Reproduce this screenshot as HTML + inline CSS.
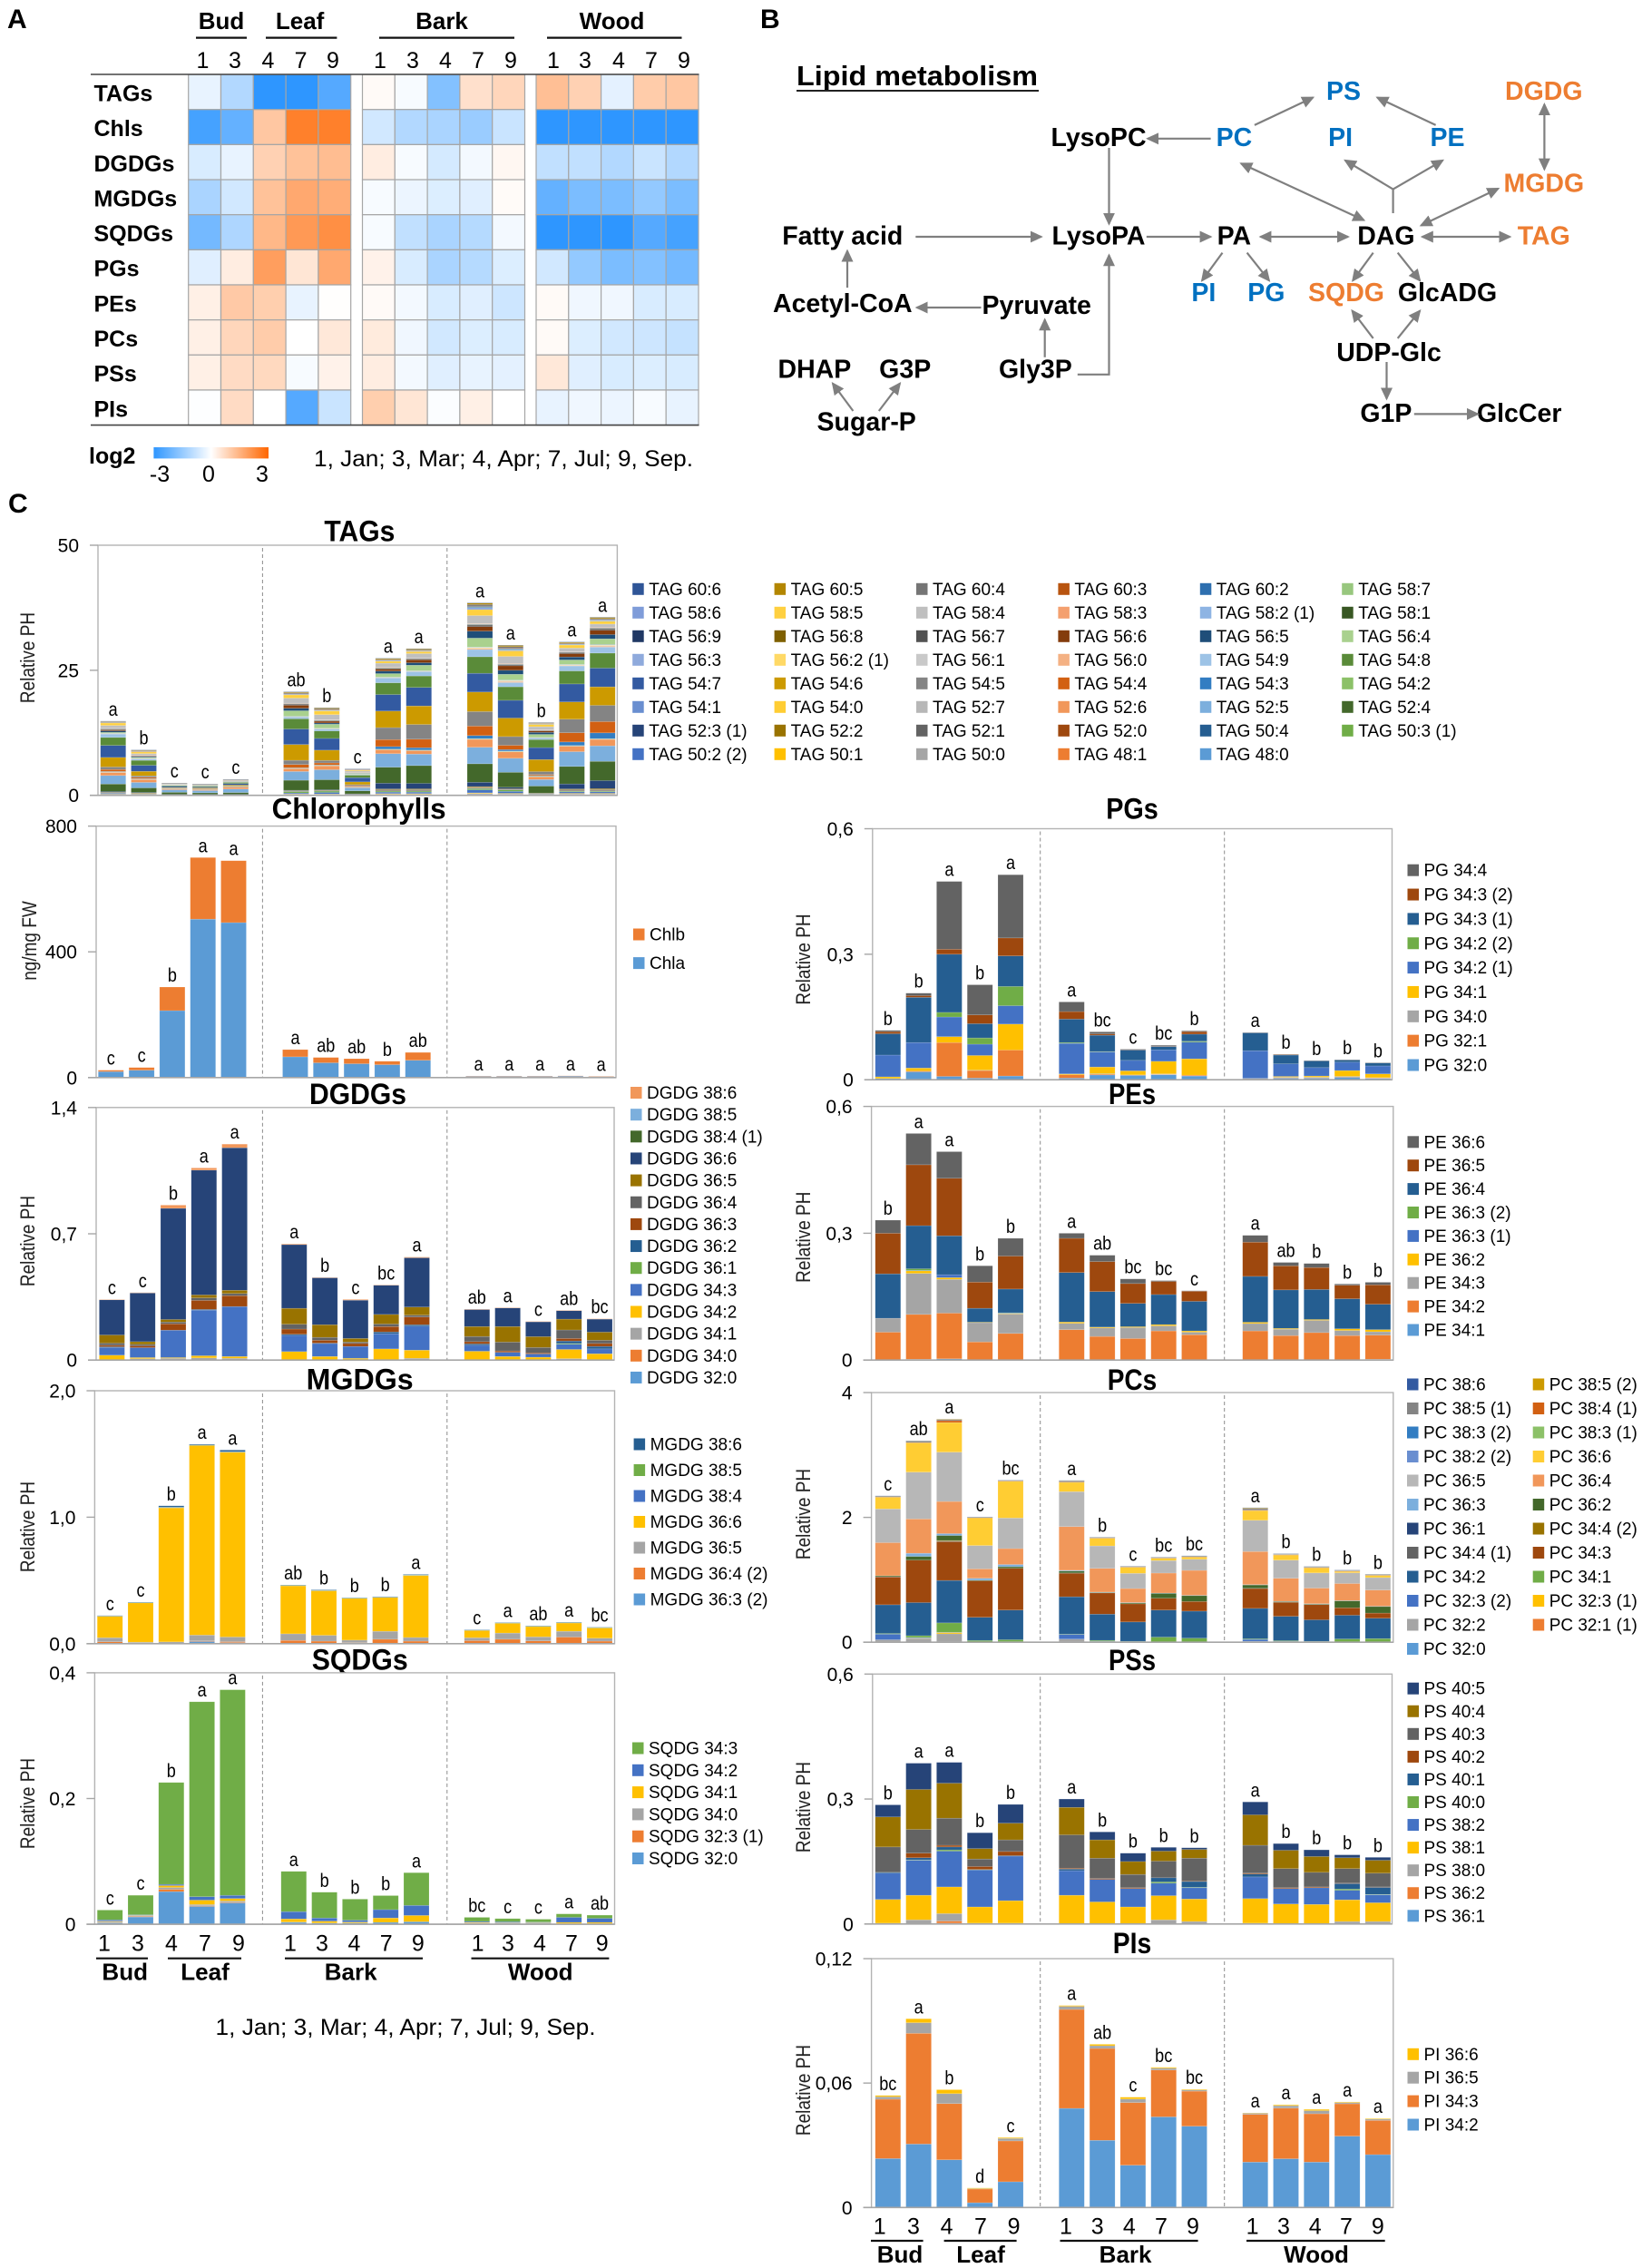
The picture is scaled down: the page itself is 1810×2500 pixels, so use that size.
<!DOCTYPE html>
<html lang="en">
<head>
<meta charset="utf-8">
<title>Lipid profile figure</title>
<style>
html,body{margin:0;padding:0;background:#fff}
svg{display:block}
text{font-family:"Liberation Sans",sans-serif;fill:#000}
.panel{font-weight:700;font-size:30px}
.ttl{font-weight:700;font-size:32px;text-anchor:middle}
.ytitle{font-size:19px;text-anchor:middle;fill:#222}
.hd{font-weight:700;font-size:26px;text-anchor:middle}
.num{font-size:25px;text-anchor:middle}
.row{font-weight:700;font-size:25px}
.foot{font-size:25px}
.node{font-weight:700;font-size:28.5px;text-anchor:middle}
.blue{fill:#0070C0}
.orange{fill:#ED7D31}
.arrow{stroke:#7f7f7f;stroke-width:2.2;fill:none}
.rule{stroke:#111;stroke-width:2.2}
</style>
</head>
<body>
<svg id="figure" xmlns="http://www.w3.org/2000/svg" width="1810" height="2500" viewBox="0 0 1810 2500">
<defs>
<marker id="head" viewBox="0 0 14 14" refX="12" refY="7" markerWidth="14" markerHeight="14" markerUnits="userSpaceOnUse" orient="auto-start-reverse"><path d="M0,0.5 L14,7 L0,13.5 z" fill="#7f7f7f"/></marker>
<linearGradient id="logGrad" x1="0" x2="1" y1="0" y2="0"><stop offset="0" stop-color="#2E96FF"/><stop offset="0.5" stop-color="#ffffff"/><stop offset="1" stop-color="#FF6600"/></linearGradient>
</defs>

<text class="panel" x="8" y="31">A</text>
<text class="panel" x="838" y="31">B</text>
<text class="panel" x="9" y="565">C</text>

<g>
<text class="hd" x="244" y="32">Bud</text>
<text class="hd" x="330.6" y="32">Leaf</text>
<text class="hd" x="487" y="32">Bark</text>
<text class="hd" x="674.5" y="32">Wood</text>
<line class="rule" x1="216" x2="272" y1="41.6" y2="41.6"/>
<line class="rule" x1="293" x2="371.4" y1="41.6" y2="41.6"/>
<line class="rule" x1="418" x2="567" y1="41.6" y2="41.6"/>
<line class="rule" x1="603" x2="751.5" y1="41.6" y2="41.6"/>
<g>
<text class="num" x="223.5" y="75">1</text><text class="num" x="259" y="75">3</text><text class="num" x="295.4" y="75">4</text><text class="num" x="331.6" y="75">7</text><text class="num" x="367" y="75">9</text>
<text class="num" x="419" y="75">1</text><text class="num" x="455" y="75">3</text><text class="num" x="491" y="75">4</text><text class="num" x="527" y="75">7</text><text class="num" x="563" y="75">9</text>
<text class="num" x="610" y="75">1</text><text class="num" x="645" y="75">3</text><text class="num" x="682" y="75">4</text><text class="num" x="718" y="75">7</text><text class="num" x="754" y="75">9</text>
</g>
</g>
<g id="heatmap"></g>
<line x1="100" x2="770.5" y1="82" y2="82" stroke="#444" stroke-width="1.6"/>
<line x1="100" x2="770.5" y1="468.6" y2="468.6" stroke="#444" stroke-width="1.6"/>
<g>
<text x="98" y="511" style="font-weight:700;font-size:25px">log2</text>
<rect x="169.4" y="493" width="126.6" height="12.4" fill="url(#logGrad)"/>
<text class="num" x="176" y="531">-3</text>
<text class="num" x="230" y="531">0</text>
<text class="num" x="289" y="531">3</text>
</g>
<text class="foot" x="346" y="514" textLength="418" lengthAdjust="spacingAndGlyphs">1, Jan; 3, Mar; 4, Apr; 7, Jul; 9, Sep.</text>

<g>
<text x="878" y="94" textLength="266" lengthAdjust="spacingAndGlyphs" style="font-weight:700;font-size:31px">Lipid metabolism</text>
<line x1="878" x2="1145" y1="100" y2="100" stroke="#222" stroke-width="2"/>
<text class="node blue" x="1481" y="110">PS</text>
<text class="node orange" x="1701.8" y="110">DGDG</text>
<text class="node" x="1211" y="161">LysoPC</text>
<text class="node blue" x="1360.4" y="161">PC</text>
<text class="node blue" x="1477.6" y="161">PI</text>
<text class="node blue" x="1595.5" y="161">PE</text>
<text class="node orange" x="1701.8" y="211.3">MGDG</text>
<text class="node" x="928.8" y="269.4">Fatty acid</text>
<text class="node" x="1211" y="269.4">LysoPA</text>
<text class="node" x="1360.4" y="269.4">PA</text>
<text class="node" x="1527.9" y="269.4">DAG</text>
<text class="node orange" x="1701.8" y="269.4">TAG</text>
<text class="node blue" x="1326.9" y="332">PI</text>
<text class="node blue" x="1395.8" y="332">PG</text>
<text class="node orange" x="1484" y="332">SQDG</text>
<text class="node" x="1595.5" y="332">GlcADG</text>
<text class="node" x="928.8" y="343.8">Acetyl-CoA</text>
<text class="node" x="1142.7" y="345.8">Pyruvate</text>
<text class="node" x="1531" y="398.2">UDP-Glc</text>
<text class="node" x="897.9" y="416.5">DHAP</text>
<text class="node" x="997.7" y="416.5">G3P</text>
<text class="node" x="1141.4" y="416.5">Gly3P</text>
<text class="node" x="955.2" y="474.3">Sugar-P</text>
<text class="node" x="1527.9" y="464.8">G1P</text>
<text class="node" x="1674.7" y="464.8">GlcCer</text>
<g>
<line class="arrow" x1="1382.9" y1="137.9" x2="1447.3" y2="107.5" marker-end="url(#head)"/>
<line class="arrow" x1="1582.6" y1="137.9" x2="1518.2" y2="107.5" marker-end="url(#head)"/>
<line class="arrow" x1="1334.6" y1="152.8" x2="1265.1" y2="152.8" marker-end="url(#head)"/>
<line class="arrow" x1="1702.4" y1="115" x2="1702.4" y2="186.6" marker-start="url(#head)" marker-end="url(#head)"/>
<line class="arrow" x1="1222.5" y1="163" x2="1222.5" y2="246.8" marker-end="url(#head)"/>
<line class="arrow" x1="1368.1" y1="180.2" x2="1503.4" y2="242.7" marker-start="url(#head)" marker-end="url(#head)"/>
<line class="arrow" x1="1535.6" y1="235" x2="1535.6" y2="208.6"/>
<line class="arrow" x1="1535.6" y1="208.6" x2="1482.8" y2="176.8" marker-end="url(#head)"/>
<line class="arrow" x1="1535.6" y1="208.6" x2="1590.3" y2="176.8" marker-end="url(#head)"/>
<line class="arrow" x1="1651.5" y1="207.9" x2="1566.5" y2="248.5" marker-start="url(#head)" marker-end="url(#head)"/>
<line class="arrow" x1="1009.3" y1="261" x2="1147.8" y2="261" marker-end="url(#head)"/>
<line class="arrow" x1="1263.8" y1="261" x2="1334.6" y2="261" marker-end="url(#head)"/>
<line class="arrow" x1="1389.4" y1="261" x2="1486" y2="261" marker-start="url(#head)" marker-end="url(#head)"/>
<line class="arrow" x1="1567.8" y1="261" x2="1664.4" y2="261" marker-start="url(#head)" marker-end="url(#head)"/>
<line class="arrow" x1="934" y1="317.1" x2="934" y2="276.5" marker-end="url(#head)"/>
<line class="arrow" x1="1081.5" y1="339" x2="1010.6" y2="339" marker-end="url(#head)"/>
<line class="arrow" x1="1151.7" y1="393.8" x2="1151.7" y2="352.3" marker-end="url(#head)"/>
<polyline class="arrow" points="1187.8,412.8 1222.5,412.8 1222.5,281.3" marker-end="url(#head)"/>
<line class="arrow" x1="1347.5" y1="278.6" x2="1325" y2="309.3" marker-end="url(#head)"/>
<line class="arrow" x1="1374.6" y1="278.6" x2="1399" y2="309.3" marker-end="url(#head)"/>
<line class="arrow" x1="1513.7" y1="278.6" x2="1491.2" y2="309.3" marker-end="url(#head)"/>
<line class="arrow" x1="1540.7" y1="278.6" x2="1565.2" y2="309.3" marker-end="url(#head)"/>
<line class="arrow" x1="1513.7" y1="372.9" x2="1490.5" y2="342.5" marker-end="url(#head)"/>
<line class="arrow" x1="1540.7" y1="372.9" x2="1565.2" y2="342.5" marker-end="url(#head)"/>
<line class="arrow" x1="1528.5" y1="399" x2="1528.5" y2="439.5" marker-end="url(#head)"/>
<line class="arrow" x1="1558.8" y1="456.4" x2="1629" y2="456.4" marker-end="url(#head)"/>
<line class="arrow" x1="940.4" y1="453" x2="917.9" y2="422.6" marker-end="url(#head)"/>
<line class="arrow" x1="968.8" y1="453" x2="992" y2="422.6" marker-end="url(#head)"/>
</g>
</g>

<text class="ttl" x="396.4" y="596.7" textLength="78" lengthAdjust="spacingAndGlyphs">TAGs</text>
<text class="ttl" x="395.6" y="902.4" textLength="192" lengthAdjust="spacingAndGlyphs">Chlorophylls</text>
<text class="ttl" x="394.5" y="1217" textLength="107" lengthAdjust="spacingAndGlyphs">DGDGs</text>
<text class="ttl" x="396.7" y="1531.3" textLength="118" lengthAdjust="spacingAndGlyphs">MGDGs</text>
<text class="ttl" x="396.7" y="1840.7" textLength="106" lengthAdjust="spacingAndGlyphs">SQDGs</text>
<text class="ttl" x="1248" y="902.4" textLength="57.6" lengthAdjust="spacingAndGlyphs">PGs</text>
<text class="ttl" x="1248" y="1217" textLength="52" lengthAdjust="spacingAndGlyphs">PEs</text>
<text class="ttl" x="1248" y="1531.8" textLength="54.5" lengthAdjust="spacingAndGlyphs">PCs</text>
<text class="ttl" x="1248" y="1841" textLength="52" lengthAdjust="spacingAndGlyphs">PSs</text>
<text class="ttl" x="1248" y="2153" textLength="42.4" lengthAdjust="spacingAndGlyphs">PIs</text>

<text class="ytitle" transform="translate(38,725) rotate(-90) scale(1,1.15)">Relative PH</text>
<text class="ytitle" transform="translate(40,1037) rotate(-90) scale(1,1.15)">ng/mg FW</text>
<text class="ytitle" transform="translate(38,1368) rotate(-90) scale(1,1.15)">Relative PH</text>
<text class="ytitle" transform="translate(38,1683) rotate(-90) scale(1,1.15)">Relative PH</text>
<text class="ytitle" transform="translate(38,1988) rotate(-90) scale(1,1.15)">Relative PH</text>
<text class="ytitle" transform="translate(893,1057.5) rotate(-90) scale(1,1.15)">Relative PH</text>
<text class="ytitle" transform="translate(893,1363.7) rotate(-90) scale(1,1.15)">Relative PH</text>
<text class="ytitle" transform="translate(893,1669) rotate(-90) scale(1,1.15)">Relative PH</text>
<text class="ytitle" transform="translate(893,1992) rotate(-90) scale(1,1.15)">Relative PH</text>
<text class="ytitle" transform="translate(893,2304) rotate(-90) scale(1,1.15)">Relative PH</text>

<g>
<text class="num" x="115" y="2150.7">1</text><text class="num" x="152" y="2150.7">3</text><text class="num" x="189" y="2150.7">4</text><text class="num" x="226" y="2150.7">7</text><text class="num" x="263" y="2150.7">9</text>
<text class="num" x="320" y="2150.7">1</text><text class="num" x="355" y="2150.7">3</text><text class="num" x="390.5" y="2150.7">4</text><text class="num" x="425.7" y="2150.7">7</text><text class="num" x="460.8" y="2150.7">9</text>
<text class="num" x="526.6" y="2150.7">1</text><text class="num" x="560" y="2150.7">3</text><text class="num" x="595" y="2150.7">4</text><text class="num" x="630" y="2150.7">7</text><text class="num" x="663.7" y="2150.7">9</text>
<line class="rule" x1="106" x2="163" y1="2158.7" y2="2158.7"/><line class="rule" x1="185" x2="266" y1="2158.7" y2="2158.7"/><line class="rule" x1="314" x2="466" y1="2158.7" y2="2158.7"/><line class="rule" x1="519.5" x2="671.4" y1="2158.7" y2="2158.7"/>
<text class="hd" x="137.7" y="2182.7">Bud</text><text class="hd" x="226" y="2182.7">Leaf</text><text class="hd" x="386.7" y="2182.7">Bark</text><text class="hd" x="595.7" y="2182.7">Wood</text>
</g>
<text class="foot" x="237.5" y="2243" textLength="419" lengthAdjust="spacingAndGlyphs">1, Jan; 3, Mar; 4, Apr; 7, Jul; 9, Sep.</text>

<g>
<text class="num" x="969.7" y="2462.7">1</text><text class="num" x="1007" y="2462.7">3</text><text class="num" x="1043.6" y="2462.7">4</text><text class="num" x="1081" y="2462.7">7</text><text class="num" x="1117.6" y="2462.7">9</text>
<text class="num" x="1175" y="2462.7">1</text><text class="num" x="1209.7" y="2462.7">3</text><text class="num" x="1244.8" y="2462.7">4</text><text class="num" x="1280" y="2462.7">7</text><text class="num" x="1315" y="2462.7">9</text>
<text class="num" x="1380.6" y="2462.7">1</text><text class="num" x="1415" y="2462.7">3</text><text class="num" x="1449.7" y="2462.7">4</text><text class="num" x="1484" y="2462.7">7</text><text class="num" x="1518.8" y="2462.7">9</text>
<line class="rule" x1="960" x2="1017.6" y1="2470" y2="2470"/><line class="rule" x1="1040.6" x2="1120.6" y1="2470" y2="2470"/><line class="rule" x1="1168.5" x2="1320.6" y1="2470" y2="2470"/><line class="rule" x1="1374" x2="1526.7" y1="2470" y2="2470"/>
<text class="hd" x="992" y="2494">Bud</text><text class="hd" x="1081" y="2494">Leaf</text><text class="hd" x="1240.6" y="2494">Bark</text><text class="hd" x="1451" y="2494">Wood</text>
</g>

<g>
<text class="row" x="103.5" y="111.5">TAGs</text><text class="row" x="103.5" y="150">Chls</text><text class="row" x="103.5" y="188.8">DGDGs</text><text class="row" x="103.5" y="227.4">MGDGs</text><text class="row" x="103.5" y="266">SQDGs</text><text class="row" x="103.5" y="304.7">PGs</text><text class="row" x="103.5" y="343.4">PEs</text><text class="row" x="103.5" y="382">PCs</text><text class="row" x="103.5" y="420.7">PSs</text><text class="row" x="103.5" y="459.3">PIs</text>
</g>
</svg>

<script>
// ---------- heatmap data (log2 fold values, row per lipid class; Bud1,Bud3,Leaf4,Leaf7,Leaf9,Bark x5,Wood x5)
const heatTAGs=[-0.3,-1.0,-2.7,-2.8,-2.2,0.1,-0.1,-1.6,0.6,0.8,1.25,0.9,-0.35,1.0,1.1];
const heatChls=[-2.4,-2.0,1.1,2.5,2.5,-0.6,-1.0,-1.1,-1.3,-0.7,-3,-3,-3,-3,-3];
const heatDGDGs=[-0.5,-0.3,0.9,1.2,1.3,0.35,-0.1,-0.55,-0.15,0.15,-0.8,-0.8,-1.0,-0.7,-1.0];
const heatMGDGs=[-1.1,-0.6,1.2,1.7,1.6,-0.1,-0.25,-0.45,-0.4,0.08,-2.0,-1.7,-1.7,-1.4,-1.7];
const heatSQDGs=[-1.8,-1.05,1.4,2.0,2.2,-0.1,-0.8,-1.1,-0.95,-0.15,-2.8,-2.8,-2.8,-2.2,-2.4];
const heatPGs=[-0.4,0.35,1.9,0.5,1.7,0.25,-0.5,-1.1,-0.95,-0.45,-0.6,-1.4,-1.7,-1.6,-1.8];
const heatPEs=[0.3,1.05,0.95,-0.3,0.02,0.1,-0.15,-0.5,-0.4,-0.65,0.1,-0.2,-0.2,-0.5,-0.5];
const heatPCs=[0.3,0.8,1.0,0,0.45,0.4,-0.2,-0.6,-0.45,-0.5,0.1,-0.45,-0.6,-0.65,-0.75];
const heatPSs=[0.3,0.7,0.75,-0.1,0.25,0.35,-0.15,-0.4,-0.3,-0.35,0.45,-0.4,-0.5,-0.45,-0.5];
const heatPIs=[-0.03,0.7,0,-2.2,-0.7,0.95,0.5,-0.05,0.3,0,-0.3,-0.2,-0.25,-0.1,-0.3];
const heatRows=[heatTAGs,heatChls,heatDGDGs,heatMGDGs,heatSQDGs,heatPGs,heatPEs,heatPCs,heatPSs,heatPIs];

// ---------- chart data: one row per lipid species, bottom of the stack first
// columns: Bud 1,3 | Leaf 4,7,9 | Bark 1,3,4,7,9 | Wood 1,3,4,7,9
const tagSeries=['TAG 48:0','TAG 48:1','TAG 50:0','TAG 50:1','TAG 50:2 (2)','TAG 50:3 (1)','TAG 50:4','TAG 52:0','TAG 52:1','TAG 52:2','TAG 52:3 (1)','TAG 52:4','TAG 52:5','TAG 52:6','TAG 52:7','TAG 54:0','TAG 54:1','TAG 54:2','TAG 54:3','TAG 54:4','TAG 54:5','TAG 54:6','TAG 54:7','TAG 54:8','TAG 54:9','TAG 56:0','TAG 56:1','TAG 56:2 (1)','TAG 56:3','TAG 56:4','TAG 56:5','TAG 56:6','TAG 56:7','TAG 56:8','TAG 56:9','TAG 58:1','TAG 58:2 (1)','TAG 58:3','TAG 58:4','TAG 58:5','TAG 58:6','TAG 58:7','TAG 60:2','TAG 60:3','TAG 60:4','TAG 60:5','TAG 60:6'];
const tagValues=[
[.15,.15,.05,.05,.05,.15,.15,.05,.15,.15,.25,.2,.1,.2,.2],
[.05,.03,.02,.02,.02,.05,.05,.02,.05,.05,.08,.05,.02,.05,.05],
[.02,.02,.01,.01,.01,.03,.03,.01,.05,.05,.05,.05,.02,.05,.05],
[.03,.03,.01,.01,.01,.05,.05,.02,.1,.1,.12,.1,.03,.1,.1],
[.15,.1,.03,.03,.03,.2,.3,.08,.3,.3,.6,.4,.1,.3,.3],
[.1,.05,.02,.02,.02,.3,.3,.05,.2,.2,.25,.3,.05,.15,.15],
[.02,.02,.01,.01,.01,.03,.03,.01,.1,.1,.08,.05,.02,.1,.1],
[.02,.02,.01,.01,.01,.03,.03,.01,.1,.1,.1,.03,.02,.1,.1],
[.03,.02,.01,.01,.01,.03,.03,.01,.08,.1,.08,.03,.02,.08,.1],
[.05,.05,.01,.01,.01,.05,.05,.02,.15,.15,.15,.1,.03,.15,.2],
[.15,.1,.03,.03,.03,.1,.1,.03,1.15,1.1,.85,.3,.05,1.0,1.6],
[1.5,.9,.4,.3,.35,2.0,2.0,.6,3.2,3.55,3.7,3.0,1.4,3.5,3.85],
[1.7,1.1,.5,.45,.7,1.75,2.0,.6,2.7,2.3,3.3,2.8,1.3,2.95,3.1],
[.6,.6,.2,.25,.4,.6,.8,.2,.8,.7,1.6,1.3,.6,1.1,1.3],
[.05,.05,.01,.01,.02,.03,.05,.02,.05,.05,.05,.05,.03,.05,.05],
[.03,.03,.01,.01,.01,.02,.02,.01,.02,.02,.03,.03,.02,.03,.03],
[.05,.03,.01,.01,.01,.02,.02,.01,.03,.03,.03,.03,.02,.03,.03],
[.03,.02,.01,.01,.01,.02,.02,.01,.02,.02,.03,.03,.02,.03,.03],
[.05,.03,.01,.01,.02,.05,.05,.03,.5,.45,.6,.3,.1,.7,1.15],
[.4,.25,.03,.03,.05,.65,.4,.15,1.4,1.7,1.9,.85,.2,1.85,2.25],
[.5,.3,.06,.05,.08,.85,.5,.2,2.4,2.95,2.9,1.75,.6,2.7,3.25],
[1.9,.9,.12,.15,.2,3.15,2.05,.55,3.3,3.7,3.9,3.7,2.4,3.45,3.7],
[2.4,1.2,.25,.2,.3,3.1,2.35,.85,3.3,3.7,3.75,3.55,2.4,3.6,3.75],
[1.6,1.0,.2,.2,.25,2.05,1.5,.5,2.35,2.3,3.3,2.7,1.6,2.6,3.0],
[.7,.3,.05,.05,.1,.4,.4,.15,1.0,.9,1.45,.85,.35,1.0,1.2],
[.05,.03,.01,.01,.01,.03,.05,.01,.05,.05,.2,.2,.03,.1,.2],
[.02,.02,.01,.01,.01,.02,.03,.01,.03,.03,.08,.1,.02,.05,.1],
[.03,.02,.01,.01,.01,.03,.03,.01,.03,.03,.12,.1,.02,.1,.1],
[.02,.02,.01,.01,.01,.02,.03,.01,.03,.03,.08,.1,.02,.05,.1],
[.2,.2,.05,.03,.05,1.1,.8,.15,.7,1.1,1.8,1.15,.6,.9,1.15],
[.3,.15,.02,.02,.04,.5,.25,.08,.5,.5,1.4,.8,.4,.6,.85],
[.2,.12,.02,.02,.03,.6,.35,.08,.4,.6,.9,.9,.3,.65,.85],
[.1,.05,.01,.01,.01,.2,.1,.02,.15,.15,.3,.2,.1,.2,.3],
[.05,.03,.01,.01,.01,.05,.05,.01,.05,.05,.08,.05,.03,.05,.1],
[.03,.02,.01,.01,.01,.03,.03,.01,.03,.03,.05,.03,.02,.03,.05],
[.05,.03,.01,.01,.01,.05,.03,.01,.05,.05,.05,.05,.03,.05,.05],
[.05,.03,.01,.01,.01,.05,.05,.01,.05,.05,.05,.05,.03,.05,.05],
[.05,.03,.01,.01,.01,.05,.05,.01,.05,.05,.08,.05,.03,.05,.05],
[.55,.3,.04,.03,.06,1.0,1.0,.25,.8,.85,1.6,1.45,.6,.7,.65],
[.5,.35,.04,.03,.06,.65,.75,.2,.4,.4,1.2,1.1,.45,.6,.55],
[.05,.05,.01,.01,.01,.1,.1,.03,.08,.08,.35,.2,.06,.1,.15],
[.02,.03,.01,.01,.01,.05,.05,.02,.05,.05,.08,.1,.03,.05,.05],
[.03,.03,.01,.01,.01,.03,.03,.02,.05,.05,.2,.15,.03,.05,.1],
[.03,.02,.01,.01,.01,.03,.03,.01,.03,.03,.08,.1,.03,.05,.05],
[.1,.1,.03,.03,.04,.2,.2,.07,.15,.15,.3,.3,.1,.15,.2],
[.1,.12,.03,.03,.05,.2,.2,.08,.2,.2,.3,.25,.12,.2,.25],
[.03,.02,.01,.01,.01,.02,.02,.01,.03,.03,.05,.05,.02,.03,.03]];
const tagLetters=['a','b','c','c','c','ab','b','c','a','a','a','a','b','a','a'];
const tagTicks=[0,25,50];
const tagTickLabels=['0','25','50'];

const chlSeries=['Chla','Chlb'];
const chlValues=[
[19,23.5,213,504,493,66,47,44,41,55,4,4,4,4.5,3.5],
[4.5,8.5,75,196,197,23,17,16,11,25,.8,.8,.8,1,.6]];
const chlLetters=['c','c','b','a','a','a','ab','ab','b','ab','a','a','a','a','a'];
const chlTicks=[0,400,800];
const chlTickLabels=['0','400','800'];

const dgdgSeries=['DGDG 32:0','DGDG 34:0','DGDG 34:1','DGDG 34:2','DGDG 34:3','DGDG 36:1','DGDG 36:2','DGDG 36:3','DGDG 36:4','DGDG 36:5','DGDG 36:6','DGDG 38:4 (1)','DGDG 38:5','DGDG 38:6'];
const dgdgValues=[
[0,0,0,0,0,0,0,0,0,0,0,0,0,0,0],
[0,0,0,0,0,0,0,0,0,0,0,0,0,0,0],
[0,.008,.01,.012,.01,0,0,0,.002,.01,0,0,0,.008,0],
[.027,.006,.004,.012,.01,.047,.02,.01,.06,.045,.049,.02,.016,.051,.035],
[.043,.055,.152,.253,.277,.09,.072,.066,.084,.133,.033,.023,.018,.029,.027],
[0,0,0,0,0,0,0,0,0,0,0,0,0,.004,0],
[.004,0,0,.004,0,.006,.002,0,.01,.008,.008,0,0,.014,.014],
[.008,.01,.035,.05,.06,.029,.016,.016,.03,.043,.012,.008,.006,.014,.016],
[.012,.008,.01,.014,.012,.027,.016,.008,.014,.01,.029,.049,.03,.047,.018],
[.045,.015,.014,.016,.018,.088,.07,.02,.053,.045,.055,.086,.06,.06,.045],
[.195,.27,.616,.692,.79,.353,.26,.212,.162,.273,.094,.103,.082,.047,.072],
[0,0,0,0,0,0,0,0,0,0,0,0,0,0,0],
[0,0,0,0,0,0,0,0,0,0,0,0,0,0,0],
[.002,.002,.018,.012,.02,.004,.002,.004,.002,.004,.002,.002,.002,.002,.002]];
const dgdgLetters=['c','c','b','a','a','a','b','c','bc','a','ab','a','c','ab','bc'];
const dgdgTicks=[0,0.7,1.4];
const dgdgTickLabels=['0','0,7','1,4'];

const mgdgSeries=['MGDG 36:3 (2)','MGDG 36:4 (2)','MGDG 36:5','MGDG 36:6','MGDG 38:4','MGDG 38:5','MGDG 38:6'];
const mgdgValues=[
[0,0,0,.017,.008,0,0,0,0,0,0,0,0,0,0],
[.015,.006,.004,.005,.008,.026,.02,.008,.035,.02,.024,.035,.022,.052,.02],
[.032,.006,.01,.046,.037,.052,.046,.02,.063,.029,.023,.049,.032,.046,.023],
[.17,.311,1.06,1.5,1.46,.38,.352,.331,.268,.49,.058,.078,.081,.066,.081],
[.002,.002,.004,.002,.004,.002,.003,.001,.002,.003,.002,.002,.003,.002,.003],
[.001,.001,.002,.001,.002,.001,.002,.001,.002,.002,.001,.001,.001,.002,.001],
[.002,.002,.01,.006,.012,.003,.004,.002,.002,.004,.002,.002,.002,.002,.002]];
const mgdgLetters=['c','c','b','a','a','ab','b','b','b','a','c','a','ab','a','bc'];
const mgdgTicks=[0,1,2];
const mgdgTickLabels=['0,0','1,0','2,0'];

const sqdgSeries=['SQDG 32:0','SQDG 32:3 (1)','SQDG 34:0','SQDG 34:1','SQDG 34:2','SQDG 34:3'];
const sqdgValues=[
[.002,.0116,.052,.0284,.034,.003,.002,.002,.003,.004,.001,.001,.001,.001,.001],
[0,.001,.0035,.001,.001,0,0,0,0,0,0,0,0,0,0],
[.002,.001,.003,.002,.002,.0005,0,0,0,0,.001,.001,.001,0,0],
[.001,.0005,.003,.007,.004,.005,.003,.0015,.007,.01,.001,.0005,.0005,.002,.002],
[.002,.001,.002,.0055,.005,.0116,.005,.003,.0133,.016,.0015,.0015,.001,.008,.0065],
[.0156,.031,.162,.31,.327,.064,.041,.0335,.0223,.052,.0065,.005,.0045,.0055,.005]];
const sqdgLetters=['c','c','b','a','a','a','b','b','b','a','bc','c','c','a','ab'];
const sqdgTicks=[0,0.2,0.4];
const sqdgTickLabels=['0','0,2','0,4'];

const pgSeries=['PG 32:0','PG 32:1','PG 34:0','PG 34:1','PG 34:2 (1)','PG 34:2 (2)','PG 34:3 (1)','PG 34:3 (2)','PG 34:4'];
const pgValues=[
[.003,.019,.008,.004,.009,.004,.0115,.0106,.012,.009,.001,.004,.004,.006,.003],
[0,.002,.081,.018,.062,.008,.002,.001,.001,.002,.0005,.001,.001,.001,.001],
[0,0,0,.001,0,0,.001,0,.001,0,.002,.001,.001,.001,.001],
[.004,.007,.014,.035,.062,.002,.016,.0097,.03,.039,0,.002,.003,.014,.009],
[.052,.061,.047,.027,.044,.073,.036,.025,.0275,.04,.066,.03,.02,.02,.019],
[0,0,.011,.015,.046,.002,.001,0,0,.002,0,0,0,0,0],
[.051,.108,.139,.034,.073,.056,.039,.025,.008,.017,.0425,.021,.016,.005,.007],
[.005,.004,.012,.021,.043,.018,.003,.001,.001,.006,0,.001,0,0,0],
[.003,.006,.162,.072,.151,.023,.005,.001,.002,.002,.001,.001,.001,.001,.001]];
const pgLetters=['b','b','a','b','a','a','bc','c','bc','b','a','b','b','b','b'];
const pgTicks=[0,0.3,0.6];
const pgTickLabels=['0','0,3','0,6'];

const peSeries=['PE 34:1','PE 34:2','PE 34:3','PE 36:2','PE 36:3 (1)','PE 36:3 (2)','PE 36:4','PE 36:5','PE 36:6'];
const peValues=[
[0,.002,.003,0,0,0,0,0,.002,0,0,0,0,0,.002],
[.066,.106,.108,.043,.063,.072,.056,.051,.067,.06,.069,.058,.065,.058,.057],
[.033,.097,.08,.0455,.046,.015,.02,.026,.012,.006,.0175,.015,.029,.012,.008],
[0,.006,.004,.001,.001,.003,.002,.002,.003,.003,.003,.002,.002,.004,.005],
[0,.001,.007,0,.001,0,0,0,0,0,0,0,0,0,0],
[0,.004,0,0,.001,0,0,0,0,0,0,0,0,0,0],
[.105,.102,.092,.033,.056,.117,.084,.055,.071,.07,.1085,.091,.071,.071,.06],
[.096,.144,.136,.062,.078,.081,.071,.047,.031,.024,.081,.057,.052,.032,.046],
[.031,.074,.063,.0385,.042,.012,.015,.011,.002,.001,.016,.008,.0095,.003,.006]];
const peLetters=['b','a','a','b','b','a','ab','bc','bc','c','a','ab','b','b','b'];
const peTicks=[0,0.3,0.6];
const peTickLabels=['0','0,3','0,6'];

const pcSeries=['PC 32:0','PC 32:1 (1)','PC 32:2','PC 32:3 (1)','PC 32:3 (2)','PC 34:1','PC 34:2','PC 34:3','PC 34:4 (1)','PC 34:4 (2)','PC 36:1','PC 36:2','PC 36:3','PC 36:4','PC 36:5','PC 36:6','PC 38:2 (2)','PC 38:3 (1)','PC 38:3 (2)','PC 38:4 (1)','PC 38:5 (1)','PC 38:5 (2)','PC 38:6'];
const pcValues=[
[.01,0,.005,0,0,.01,0,0,0,0,.005,0,0,0,0],
[0,0,.005,0,0,0,0,0,0,0,0,0,0,0,0],
[.03,.06,.125,.005,.01,.04,.01,.005,.005,.005,.01,.01,.005,.005,.005],
[0,.005,.02,0,0,0,0,0,0,0,0,0,0,0,0],
[.09,.01,.005,0,0,.075,.005,0,0,0,.03,.005,.005,0,0],
[.01,.03,.15,.024,.03,.003,.015,.01,.077,.06,.01,.01,.005,.047,.053],
[.46,.53,.68,.37,.475,.6,.42,.31,.433,.433,.487,.39,.344,.38,.326],
[.445,.68,.62,.585,.67,.38,.34,.29,.19,.155,.32,.225,.243,.12,.083],
[.005,0,.01,0,0,.002,0,0,0,0,.003,0,0,0,0],
[0,0,.01,0,0,0,0,0,0,0,0,0,0,0,0],
[0,0,0,0,0,0,0,0,0,0,0,0,0,0,0],
[.015,.06,.08,.01,.025,.03,.01,.015,.08,.095,.053,.012,.012,.113,.107],
[0,.05,.03,.03,.035,.012,.003,.005,.003,.003,.005,.003,.003,.002,.002],
[.53,.55,.515,.15,.255,.7,.38,.225,.32,.4,.53,.37,.25,.273,.26],
[.54,.75,.79,.375,.49,.56,.36,.243,.2,.178,.5,.29,.243,.172,.2],
[.19,.47,.475,.445,.59,.15,.125,.1,.04,.036,.155,.083,.083,.024,.036],
[0,0,0,0,0,0,0,0,0,0,0,0,0,0,0],
[0,0,0,0,0,0,0,0,0,0,0,0,0,0,0],
[0,0,0,0,0,0,0,0,0,0,0,0,0,0,0],
[.002,.005,.03,.002,.002,.005,.002,.002,.002,.003,.008,.003,.003,.003,.002],
[.012,.02,.02,.008,.008,.015,.008,.008,.008,.01,.025,.01,.01,.01,.01],
[.004,.008,.005,.004,.004,.008,.004,.004,.004,.005,.012,.006,.006,.006,.004],
[.002,.002,0,.001,.001,.002,.001,.001,.001,.002,.003,.001,.001,.001,.001]];
const pcLetters=['c','ab','a','c','bc','a','b','c','bc','bc','a','b','b','b','b'];
const pcTicks=[0,2,4];
const pcTickLabels=['0','2','4'];

const psSeries=['PS 36:1','PS 36:2','PS 38:0','PS 38:1','PS 38:2','PS 40:0','PS 40:1','PS 40:2','PS 40:3','PS 40:4','PS 40:5'];
const psValues=[
[0,0,.002,0,0,0,0,0,0,0,0,0,0,0,0],
[.002,.001,.005,0,0,0,0,0,0,0,0,0,0,0,0],
[0,.009,.018,.002,.002,0,0,0,.01,.006,.002,0,0,.006,.006],
[.057,.059,.064,.039,.054,.069,.053,.041,.058,.054,.059,.048,.047,.052,.045],
[.063,.084,.086,.089,.107,.059,.054,.044,.03,.027,.052,.037,.04,.023,.019],
[0,.001,.003,.001,0,0,0,0,.003,.001,0,0,0,.003,.001],
[.002,.005,.007,0,.001,.004,0,0,.01,.014,.007,0,0,.013,.017],
[0,.011,.004,.007,.01,.002,.002,.002,0,.001,.002,.002,.002,.001,.001],
[.061,.057,.065,.018,.028,.08,.049,.032,.04,.055,.067,.046,.035,.035,.033],
[.072,.096,.084,.025,.04,.066,.044,.031,.024,.021,.073,.044,.038,.026,.031],
[.029,.063,.05,.038,.045,.02,.019,.02,.009,.004,.031,.016,.016,.007,.007]];
const psLetters=['b','a','a','b','b','a','b','b','b','b','a','b','b','b','b'];
const psTicks=[0,0.3,0.6];
const psTickLabels=['0','0,3','0,6'];

const piSeries=['PI 34:2','PI 34:3','PI 36:5','PI 36:6'];
const piValues=[
[.0236,.0306,.023,.0023,.0124,.0478,.0324,.0204,.0437,.0392,.0219,.0235,.0219,.0344,.0255],
[.0286,.0534,.0271,.0066,.0197,.0477,.0443,.0302,.0226,.0169,.023,.0244,.0233,.0156,.0165],
[.0012,.0051,.0048,.0002,.0012,.0015,.0013,.0017,.0009,.0006,.0006,.0012,.0015,.0006,.0006],
[.0006,.0019,.0019,.0003,.0004,.0004,.0007,.0009,.0004,.0003,.0001,.0004,.0006,.0003,.0003]];
const piLetters=['bc','a','b','d','c','a','ab','c','bc','bc','a','a','a','a','a'];
const piTicks=[0,0.06,0.12];
const piTickLabels=['0','0,06','0,12'];

// ---------- styling: Excel-like series palette
const palette=['#5B9BD5','#ED7D31','#A5A5A5','#FFC000','#4472C4','#70AD47','#255E91','#9E480E','#636363','#997300','#264478','#43682B','#7CAFDD','#F1975A','#B7B7B7','#FFCD33','#698ED0','#8CC168','#327DC2','#D26012','#848484','#CC9A00','#335AA1','#5A8B39','#9DC3E6','#F4B183','#C9C9C9','#FFD966','#8FAADC','#A9D18E','#1F4E79','#843C0C','#525252','#7F6000','#203864','#385723','#8EB4E3','#F4A06F','#BFBFBF','#FFD040','#7F9CD9','#98C77E','#2E6FAF','#B8540F','#757575','#B38600','#2F5597'];

const NS='http://www.w3.org/2000/svg';
const figure=document.getElementById('figure');
function mk(tag,parent,attrs){
  const n=document.createElementNS(NS,tag);
  for(const k in attrs){n.setAttribute(k,attrs[k]);}
  parent.appendChild(n);
  return n;
}
function kebab(s){return s.toLowerCase().replace(/[^a-z0-9]+/g,'-').replace(/-+$/,'');}

// ---------- heatmap
function heatColor(v){
  if(v>=0){
    const t=Math.min(1,v/3);
    return 'rgb(255,'+Math.round(255-153*t)+','+Math.round(255-255*t)+')';
  }
  const t=Math.min(1,-v/2.7);
  return 'rgb('+Math.round(255-209*t)+','+Math.round(255-105*t)+',255)';
}
function drawHeatmap(){
  const host=document.getElementById('heatmap');
  const groupX=[207.7,399.5,591];
  const groupCols=[5,5,5];
  const cw=35.8,top=82.1,rh=38.65;
  heatRows.forEach(function(row,r){
    row.forEach(function(v,c){
      const g=Math.floor(c/groupCols[0]);
      const cell=mk('rect',host,{x:groupX[g]+(c%5)*cw,y:top+r*rh,width:cw,height:rh,fill:heatColor(v),stroke:'#a6a6a6','stroke-width':1.2});
      
      
    });
  });
}
drawHeatmap();

// ---------- stacked bar charts
function drawChart(cfg){
  const g=mk('g',figure,{});
  
  
  const L=cfg.frame[0],R=cfg.frame[1],T=cfg.frame[2],B=cfg.frame[3];
  const maxV=cfg.ticks[cfg.ticks.length-1];
  const yScale=function(v){return B-(v/maxV)*(B-T);};
  const xBar=function(i){return cfg.starts[Math.floor(i/5)]+(i%5)*33.8;};
  const barW=28;

  const plot=mk('rect',g,{x:L,y:T,width:R-L,height:B-T,fill:'#fff',stroke:'#b3b3b3','stroke-width':1.4});
  
  

  cfg.seps.forEach(function(x){
    const sep=mk('line',g,{x1:x,x2:x,y1:T+3,y2:B,stroke:'#8c8c8c','stroke-width':1,'stroke-dasharray':'4 3'});
    
    
  });

  cfg.ticks.forEach(function(t,i){
    const y=yScale(t);
    const tick=mk('line',g,{x1:L-9,x2:L,y1:y,y2:y,stroke:'#a6a6a6','stroke-width':1.4});
    
    
    const lab=mk('text',g,{x:L-21,y:y+7.5,'text-anchor':'end','font-size':21});
    
    
    lab.textContent=cfg.tickLabels[i];
  });

  cfg.letters.forEach(function(letter,i){
    let acc=0;
    cfg.values.forEach(function(row,s){
      const v=row[i];
      if(v<=0){return;}
      const y1=yScale(acc+v),y0=yScale(acc);
      acc+=v;
      const seg=mk('rect',g,{x:xBar(i),y:y1,width:barW,height:Math.max(0.4,y0-y1),fill:palette[s],stroke:'rgba(255,255,255,0.3)','stroke-width':0.5});
      
      
    });
    const sig=mk('text',g,{transform:'translate('+(xBar(i)+barW/2)+','+(yScale(acc)-6)+') scale(0.84,1)','text-anchor':'middle','font-size':21.5});
    
    
    sig.textContent=letter;
  });

  const base=mk('line',g,{x1:L-9,x2:R,y1:B,y2:B,stroke:'#a6a6a6','stroke-width':1.6});
  
  

  const lg=cfg.legend;
  const order=cfg.series.map(function(n,i){return i;}).reverse();
  order.forEach(function(sIdx,n){
    const col=n%lg.cols,row=Math.floor(n/lg.cols);
    const sx=lg.x+col*lg.dx,sy=lg.y+row*lg.dy;
    const sw=mk('rect',g,{x:sx,y:sy-6.5,width:12.5,height:13,fill:palette[sIdx]});
    
    
    const tx=mk('text',g,{x:sx+18,y:sy+6.5,'font-size':19});
    
    
    tx.textContent=cfg.series[sIdx];
  });
}

const leftSeps=[289.4,492.8];
const rightSeps=[1146.7,1349.7];
const rightStarts=[964.8,1167.3,1369.7];

drawChart({id:'tags',series:tagSeries,values:tagValues,letters:tagLetters,ticks:tagTicks,tickLabels:tagTickLabels,frame:[108,680.4,601,876.7],seps:leftSeps,starts:[110.7,312.5,515],legend:{x:697.2,y:649.3,dy:26,cols:6,dx:156.4}});
drawChart({id:'chlorophylls',series:chlSeries,values:chlValues,letters:chlLetters,ticks:chlTicks,tickLabels:chlTickLabels,frame:[106,679,910.6,1187.8],seps:leftSeps,starts:[108.3,311.5,513.5],legend:{x:698,y:1030,dy:31.6,cols:1,dx:0}});
drawChart({id:'dgdgs',series:dgdgSeries,values:dgdgValues,letters:dgdgLetters,ticks:dgdgTicks,tickLabels:dgdgTickLabels,frame:[106,677,1220.8,1499.2],seps:leftSeps,starts:[109.4,310.3,511.8],legend:{x:695,y:1204.5,dy:24.15,cols:1,dx:0}});
drawChart({id:'mgdgs',series:mgdgSeries,values:mgdgValues,letters:mgdgLetters,ticks:mgdgTicks,tickLabels:mgdgTickLabels,frame:[104.4,677.5,1533,1811.8],seps:leftSeps,starts:[107.2,309.2,511.8],legend:{x:698.6,y:1592,dy:28.5,cols:1,dx:0}});
drawChart({id:'sqdgs',series:sqdgSeries,values:sqdgValues,letters:sqdgLetters,ticks:sqdgTicks,tickLabels:sqdgTickLabels,frame:[104.4,677.5,1843.9,2121.1],seps:leftSeps,starts:[107.2,309.8,511.8],legend:{x:697,y:1927,dy:24.3,cols:1,dx:0}});
drawChart({id:'pgs',series:pgSeries,values:pgValues,letters:pgLetters,ticks:pgTicks,tickLabels:pgTickLabels,frame:[961.8,1534.5,913.5,1190.2],seps:rightSeps,starts:rightStarts,legend:{x:1551.5,y:959.2,dy:26.85,cols:1,dx:0}});
drawChart({id:'pes',series:peSeries,values:peValues,letters:peLetters,ticks:peTicks,tickLabels:peTickLabels,frame:[960.6,1535.8,1219.6,1499.2],seps:rightSeps,starts:rightStarts,legend:{x:1551.5,y:1258.8,dy:25.9,cols:1,dx:0}});
drawChart({id:'pcs',series:pcSeries,values:pcValues,letters:pcLetters,ticks:pcTicks,tickLabels:pcTickLabels,frame:[960.6,1535.8,1535,1810.2],seps:rightSeps,starts:rightStarts,legend:{x:1551,y:1526,dy:26.5,cols:2,dx:138.7}});
drawChart({id:'pss',series:psSeries,values:psValues,letters:psLetters,ticks:psTicks,tickLabels:psTickLabels,frame:[961.8,1534.5,1845.3,2120.8],seps:rightSeps,starts:rightStarts,legend:{x:1551.5,y:1861.2,dy:25.06,cols:1,dx:0}});
drawChart({id:'pis',series:piSeries,values:piValues,letters:piLetters,ticks:piTicks,tickLabels:piTickLabels,frame:[960.6,1535.8,2159,2433.3],seps:rightSeps,starts:rightStarts,legend:{x:1551.5,y:2264.3,dy:25.9,cols:1,dx:0}});
</script>
</body>
</html>
